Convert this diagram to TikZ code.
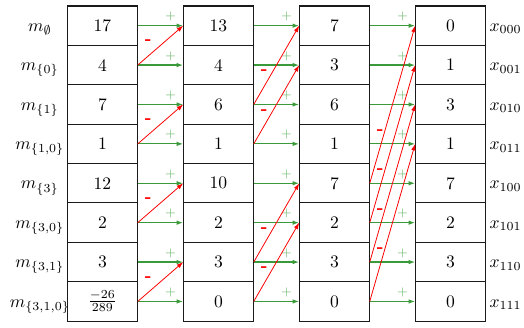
\documentclass[tikz,border=0pt]{standalone}
\usepackage{amsmath,amssymb}
\usepackage{xcolor}
\usetikzlibrary{arrows.meta,calc}
\definecolor{ink}{HTML}{1A1A1A}
\definecolor{plusline}{HTML}{3A9A3A}
\definecolor{plustext}{HTML}{6CB86C}
\definecolor{minusred}{HTML}{FF0000}
\tikzset{
  cell/.style={draw=ink,line width=0.6pt,
               minimum width=1.39cm,minimum height=0.788cm,
               inner sep=0pt,align=center},
  mlabel/.style={inner sep=0pt,text height=1.5ex,text depth=0pt},
  xlabel/.style={anchor=west,inner sep=2pt,text height=1.5ex,text depth=0pt},
  plusarr/.style={-{Latex[length=1.3mm,width=0.9mm]},line width=0.7pt,color=plusline},
  minusarr/.style={-{Latex[length=1.3mm,width=0.9mm]},line width=0.45pt,color=minusred},
  plussign/.style={font=\scriptsize,text=plustext,inner sep=0pt},
  minussign/.style={font=\bfseries,text=minusred,inner sep=0pt}
}

\begin{document}
\begin{tikzpicture}[x=2.32cm,y=-0.788cm]
  \useasboundingbox (-0.8836,-0.652) rectangle (3.634,7.673);
  \foreach \a/\b/\c/\d/\sub/\bits [count=\i from 0] in {
      17/13/7/0/\emptyset/000,
      4/4/3/1/{\{0\}}/001,
      7/6/6/3/{\{1\}}/010,
      1/1/1/1/{\{1,0\}}/011,
      12/10/7/7/{\{3\}}/100,
      2/2/2/2/{\{3,0\}}/101,
      3/3/3/3/{\{3,1\}}/110,
      {$\frac{-26}{289}$}/0/0/0/{\{3,1,0\}}/111}{
    \node[cell] (c0-\i) at (0,\i) {\a};
    \node[cell] (c1-\i) at (1,\i) {\b};
    \node[cell] (c2-\i) at (2,\i) {\c};
    \node[cell] (c3-\i) at (3,\i) {\d};
    \node[mlabel] (m\i) at (-0.54,\i) {$m_{\sub}$};
    \node[xlabel] (x\i) at (c3-\i.east) {$x_{\bits}$};
  }

  \foreach \c in {0,1,2}{
    \pgfmathtruncatemacro\n{\c+1}
    \foreach \i in {0,...,7}
      \draw[plusarr] (c\c-\i.east) -- node[plussign,pos=0.72,yshift=0.18cm] (p\c-\i) {$+$} (c\n-\i.west);
  }

  \foreach \c/\d/\rows in {0/1/{0,2,4,6},1/2/{0,1,4,5},2/4/{0,1,2,3}}{
    \pgfmathtruncatemacro\n{\c+1}
    \pgfmathsetmacro\up{0.26+0.192*\d}
    \foreach \j in \rows{
      \pgfmathtruncatemacro\k{\j+\d}
      \draw[minusarr] (c\c-\k.east) -- (c\n-\j.west);
      \node[minussign] (q\c-\j) at ($(c\c-\k.east)+(0.21cm,\up cm)$) {-};
    }
  }
\end{tikzpicture}
\end{document}
